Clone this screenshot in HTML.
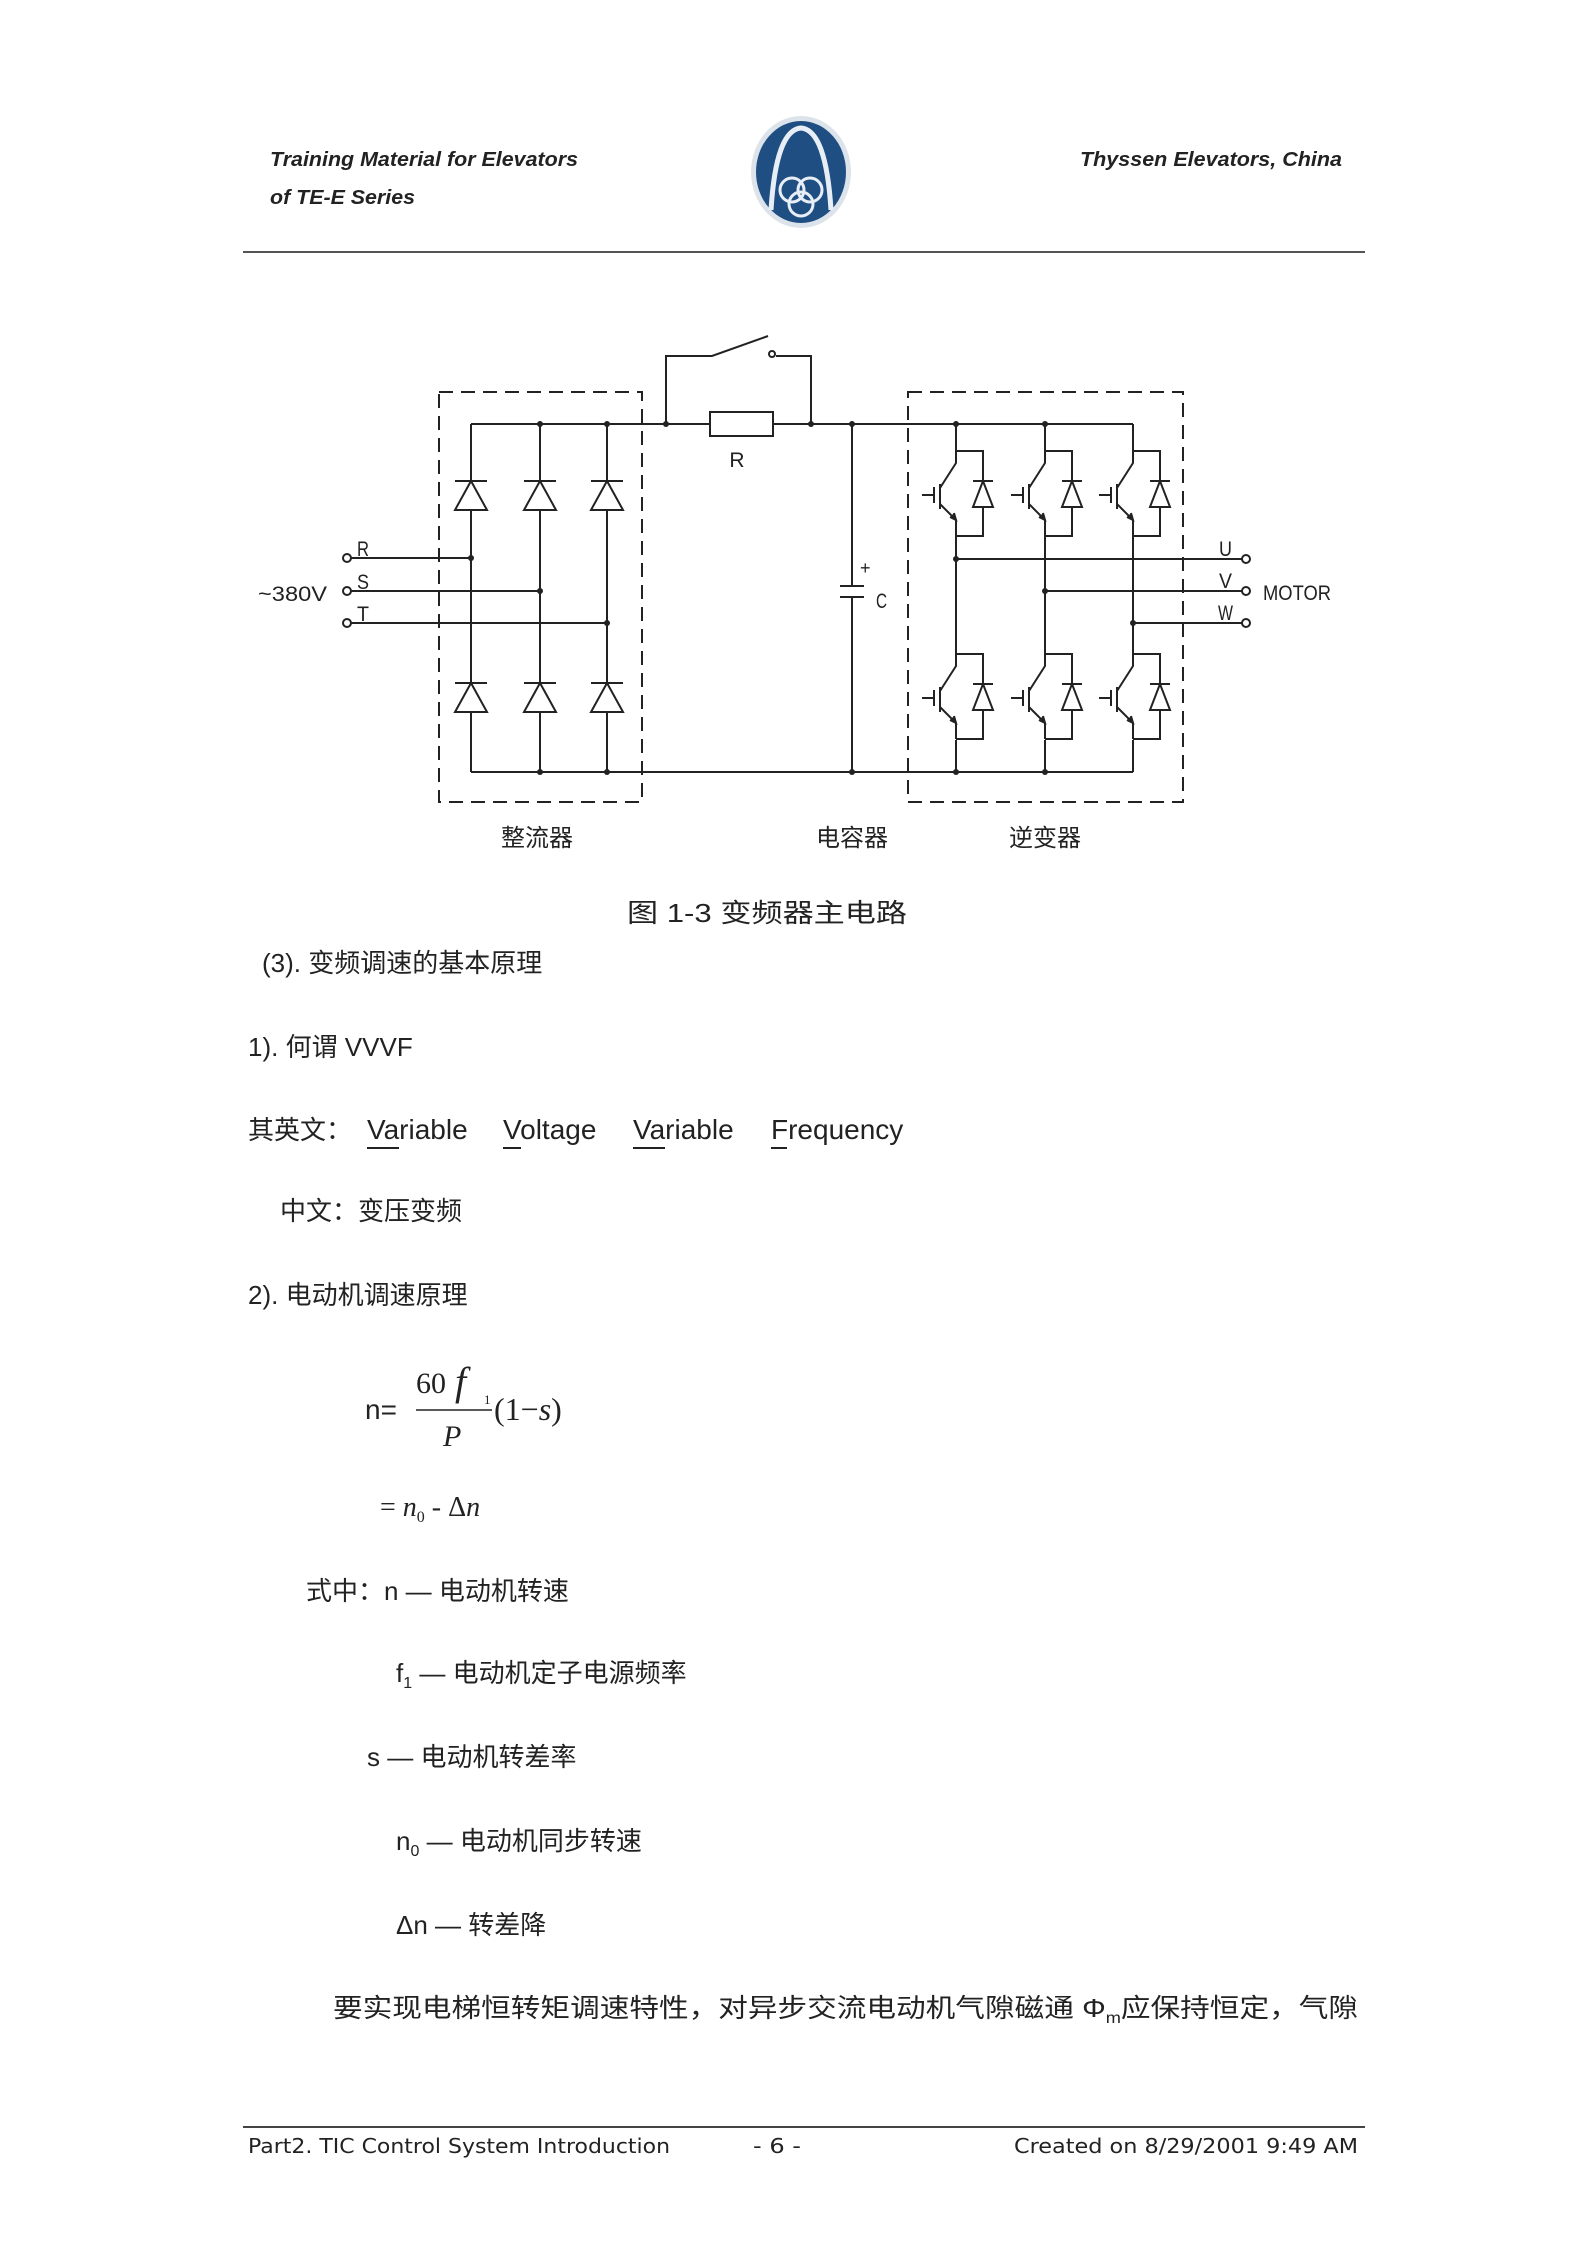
<!DOCTYPE html>
<html><head><meta charset="utf-8"><style>
html,body{margin:0;padding:0;background:#fff}
svg{display:block}
.cj{font-family:"Liberation Sans","Noto Sans CJK SC",sans-serif}
.ser{font-family:"Liberation Serif","Noto Serif CJK SC",serif}
</style></head><body>
<svg width="1594" height="2252" viewBox="0 0 1594 2252" xmlns="http://www.w3.org/2000/svg">
<defs>
<g id="ig" fill="none" stroke="#222" stroke-width="2">
  <path d="M0,0 H27 V85 H0"/>
  <line x1="17" y1="30" x2="37" y2="30"/>
  <path d="M27,30 L17,56 H37 Z" fill="#fff"/>
  <path d="M0,0 V12 L-16,37"/>
  <line x1="-16" y1="33" x2="-16" y2="58"/>
  <path d="M-16,53 L0,69 V85"/>
  <path d="M-6,66 L0,69 L-2,62" fill="#222"/>
  <line x1="-34" y1="44" x2="-22" y2="44"/>
  <line x1="-22" y1="36" x2="-22" y2="52"/>
</g>
<g id="rd" stroke="#222" stroke-width="2">
  <line x1="-16" y1="0" x2="16" y2="0"/>
  <path d="M0,0 L-16,29 H16 Z" fill="#fff"/>
</g>
</defs>
<!-- header -->
<g font-family="Liberation Sans, sans-serif" font-weight="bold" font-style="italic" font-size="20" fill="#222">
<text x="270" y="166" textLength="308" lengthAdjust="spacingAndGlyphs">Training Material for Elevators</text>
<text x="270" y="204" textLength="145" lengthAdjust="spacingAndGlyphs">of TE-E Series</text>
<text x="1342" y="166" text-anchor="end" textLength="262" lengthAdjust="spacingAndGlyphs">Thyssen Elevators, China</text>
</g>
<ellipse cx="801" cy="172" rx="50" ry="56" fill="#dde3ea"/>
<ellipse cx="801" cy="172" rx="45" ry="51" fill="#1f4f82"/>
<path d="M771,210 Q776,130 801,128 Q826,130 831,210" fill="none" stroke="#e8eef5" stroke-width="5"/>
<circle cx="792" cy="190" r="12" fill="none" stroke="#e8eef5" stroke-width="3"/>
<circle cx="810" cy="190" r="12" fill="none" stroke="#e8eef5" stroke-width="3"/>
<circle cx="801" cy="204" r="12" fill="none" stroke="#e8eef5" stroke-width="3"/>
<line x1="243" y1="252" x2="1365" y2="252" stroke="#555" stroke-width="2"/>

<!-- circuit -->
<g fill="none" stroke="#222" stroke-width="2">
<rect x="439" y="392" width="203" height="410" stroke-dasharray="14,8"/>
<rect x="908" y="392" width="275" height="410" stroke-dasharray="14,8"/>
<line x1="471" y1="424" x2="710" y2="424"/>
<line x1="773" y1="424" x2="1133" y2="424"/>
<line x1="471" y1="772" x2="1133" y2="772"/>
<line x1="471" y1="424" x2="471" y2="772"/>
<line x1="540" y1="424" x2="540" y2="772"/>
<line x1="607" y1="424" x2="607" y2="772"/>
<rect x="710" y="412" width="63" height="24"/>
<path d="M666,424 V356 H712 L768,336"/>
<circle cx="772" cy="354" r="3"/>
<path d="M776,356 H811 V424"/>
<line x1="852" y1="424" x2="852" y2="586"/>
<line x1="852" y1="597" x2="852" y2="772"/>
<line x1="840" y1="586" x2="864" y2="586"/>
<line x1="840" y1="597" x2="864" y2="597"/>
<line x1="351" y1="558" x2="471" y2="558"/>
<line x1="351" y1="591" x2="540" y2="591"/>
<line x1="351" y1="623" x2="607" y2="623"/>
<circle cx="347" cy="558" r="4"/><circle cx="347" cy="591" r="4"/><circle cx="347" cy="623" r="4"/>
<line x1="956" y1="559" x2="1242" y2="559"/>
<line x1="1045" y1="591" x2="1242" y2="591"/>
<line x1="1133" y1="623" x2="1242" y2="623"/>
<circle cx="1246" cy="559" r="4"/><circle cx="1246" cy="591" r="4"/><circle cx="1246" cy="623" r="4"/>
<line x1="956" y1="424" x2="956" y2="451"/><line x1="956" y1="536" x2="956" y2="654"/><line x1="956" y1="740" x2="956" y2="772"/>
<line x1="1045" y1="424" x2="1045" y2="451"/><line x1="1045" y1="536" x2="1045" y2="654"/><line x1="1045" y1="740" x2="1045" y2="772"/>
<line x1="1133" y1="424" x2="1133" y2="451"/><line x1="1133" y1="536" x2="1133" y2="654"/><line x1="1133" y1="740" x2="1133" y2="772"/>
</g>
<use href="#rd" x="471" y="481"/><use href="#rd" x="540" y="481"/><use href="#rd" x="607" y="481"/>
<use href="#rd" x="471" y="683"/><use href="#rd" x="540" y="683"/><use href="#rd" x="607" y="683"/>
<use href="#ig" x="956" y="451"/><use href="#ig" x="1045" y="451"/><use href="#ig" x="1133" y="451"/>
<use href="#ig" x="956" y="654"/><use href="#ig" x="1045" y="654"/><use href="#ig" x="1133" y="654"/>
<g fill="#222">
<circle cx="471" cy="558" r="3"/><circle cx="540" cy="591" r="3"/><circle cx="607" cy="623" r="3"/>
<circle cx="540" cy="424" r="3"/><circle cx="607" cy="424" r="3"/><circle cx="540" cy="772" r="3"/><circle cx="607" cy="772" r="3"/>
<circle cx="666" cy="424" r="3"/><circle cx="811" cy="424" r="3"/><circle cx="852" cy="424" r="3"/><circle cx="852" cy="772" r="3"/>
<circle cx="956" cy="424" r="3"/><circle cx="1045" cy="424" r="3"/><circle cx="956" cy="772" r="3"/><circle cx="1045" cy="772" r="3"/>
<circle cx="956" cy="559" r="3"/><circle cx="1045" cy="591" r="3"/><circle cx="1133" cy="623" r="3"/>
</g>
<g font-family="Liberation Sans, sans-serif" font-size="21" fill="#222">
<text x="357" y="556" textLength="12" lengthAdjust="spacingAndGlyphs">R</text>
<text x="357" y="589" textLength="12" lengthAdjust="spacingAndGlyphs">S</text>
<text x="357" y="621" textLength="12" lengthAdjust="spacingAndGlyphs">T</text>
<text x="258" y="601" textLength="69" lengthAdjust="spacingAndGlyphs">~380V</text>
<text x="737" y="467" text-anchor="middle">R</text>
<text x="860" y="574" font-size="18">+</text>
<text x="876" y="608" textLength="11" lengthAdjust="spacingAndGlyphs">C</text>
<text x="1219" y="556" textLength="13" lengthAdjust="spacingAndGlyphs">U</text>
<text x="1219" y="588" textLength="13" lengthAdjust="spacingAndGlyphs">V</text>
<text x="1218" y="620" textLength="15" lengthAdjust="spacingAndGlyphs">W</text>
<text x="1263" y="600" textLength="68" lengthAdjust="spacingAndGlyphs">MOTOR</text>
</g>
<g class="cj" font-size="24" fill="#222" text-anchor="middle">
<text x="537" y="846">整流器</text>
<text x="852" y="846">电容器</text>
<text x="1045" y="846">逆变器</text>
</g>
<text class="cj" x="627" y="922" font-size="26" fill="#222" textLength="280" lengthAdjust="spacingAndGlyphs">图 1-3  变频器主电路</text>

<!-- body -->
<g class="cj" font-size="26" fill="#222">
<text x="262" y="972">(3). 变频调速的基本原理</text>
<text x="248" y="1056">1). 何谓 VVVF</text>
<text x="248" y="1139">其英文：</text>
<text x="367" y="1139" font-size="28">Variable</text>
<text x="503" y="1139" font-size="28">Voltage</text>
<text x="633" y="1139" font-size="28">Variable</text>
<text x="771" y="1139" font-size="28">Frequency</text>
<text x="280" y="1220">中文：变压变频</text>
<text x="248" y="1304">2). 电动机调速原理</text>
<text x="306" y="1600">式中：n — 电动机转速</text>
<text x="396" y="1682">f<tspan font-size="16" dy="6">1</tspan><tspan dy="-6"> — 电动机定子电源频率</tspan></text>
<text x="367" y="1766">s — 电动机转差率</text>
<text x="396" y="1850">n<tspan font-size="16" dy="6">0</tspan><tspan dy="-6"> — 电动机同步转速</tspan></text>
<text x="396" y="1934">Δn — 转差降</text>
<text x="333" y="2017" textLength="1025" lengthAdjust="spacingAndGlyphs">要实现电梯恒转矩调速特性，对异步交流电动机气隙磁通 Φ<tspan font-size="16" dy="6">m</tspan><tspan dy="-6">应保持恒定，气隙</tspan></text>
</g>
<g fill="#222" stroke="#222" stroke-width="2">
<line x1="367" y1="1148" x2="399" y2="1148"/>
<line x1="503" y1="1148" x2="521" y2="1148"/>
<line x1="633" y1="1148" x2="665" y2="1148"/>
<line x1="771" y1="1148" x2="787" y2="1148"/>
</g>
<!-- formula -->
<text class="cj" x="365" y="1419" font-size="28" fill="#222">n=</text>
<g class="ser" fill="#222">
<text x="416" y="1393" font-size="30">60</text>
<text x="455" y="1395" font-size="40" font-style="italic">f</text>
<text x="484" y="1404" font-size="13">1</text>
<line x1="416" y1="1410" x2="492" y2="1410" stroke="#222" stroke-width="1.5"/>
<text x="443" y="1446" font-size="30" font-style="italic">P</text>
<text x="494" y="1420" font-size="32">(1−<tspan font-style="italic">s</tspan>)</text>
<text x="380" y="1516" font-size="28">= <tspan font-style="italic">n</tspan><tspan font-size="16" dy="6">0</tspan><tspan dy="-6"> - Δ</tspan><tspan font-style="italic">n</tspan></text>
</g>
<!-- footer -->
<line x1="243" y1="2127" x2="1365" y2="2127" stroke="#444" stroke-width="2"/>
<g font-family="DejaVu Sans, sans-serif" font-size="20" fill="#222">
<text x="248" y="2153" textLength="422" lengthAdjust="spacingAndGlyphs">Part2. TIC Control System Introduction</text>
<text x="753" y="2153" textLength="48" lengthAdjust="spacingAndGlyphs">- 6 -</text>
<text x="1358" y="2153" text-anchor="end" textLength="344" lengthAdjust="spacingAndGlyphs">Created on 8/29/2001 9:49 AM</text>
</g>
</svg>
</body></html>
